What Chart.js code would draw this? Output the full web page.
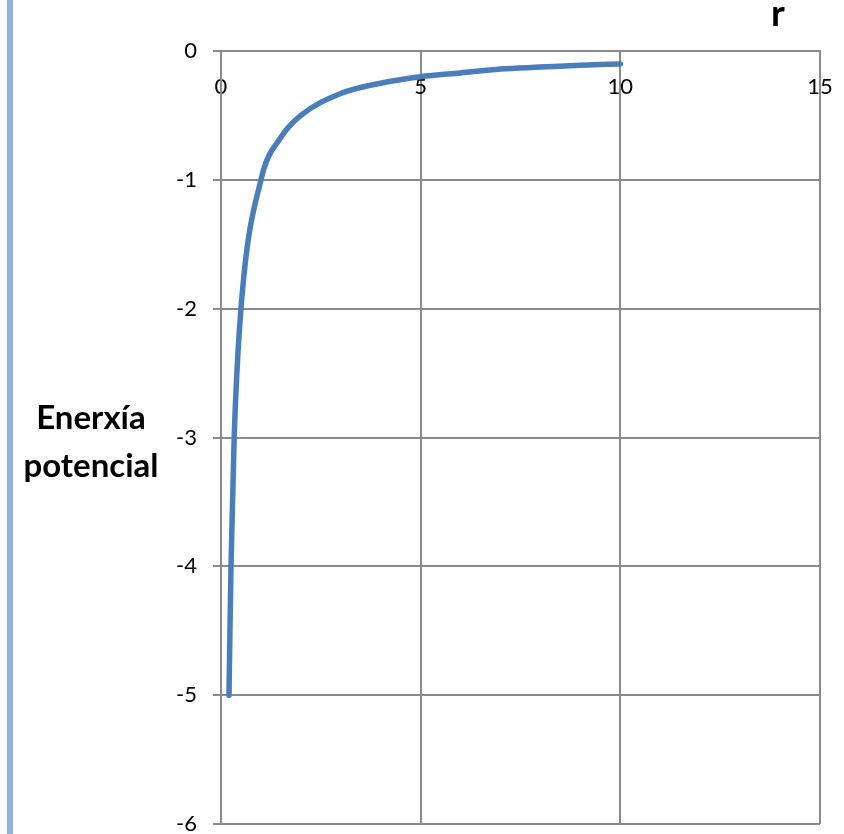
<!DOCTYPE html>
<html>
<head>
<meta charset="utf-8">
<script src="https://cdn.jsdelivr.net/npm/chart.js@4/dist/chart.umd.min.js"></script>
<style>
  html, body { margin: 0; padding: 0; background: #fff; }
  #wrap { position: relative; width: 844px; height: 834px; }
  #bar { position: absolute; left: 7px; top: 0; width: 6px; height: 834px; background: #8eb4e3; }
  canvas { position: absolute; left: 0; top: 0; }
  .ttl { position: absolute; font-family: Lato, "Open Sans", sans-serif; font-weight: bold; color: #000; }
  #ytitle { left: 16px; top: 392px; width: 150px; text-align: center; font-size: 33px; line-height: 48px; }
  #xtitle { left: 771px; top: -11px; font-size: 37px; }
</style>
</head>
<body>
<div id="wrap">
  <div id="bar"></div>
  <canvas id="c" width="844" height="834"></canvas>
  <div class="ttl" id="ytitle">Enerxía<br>potencial</div>
  <div class="ttl" id="xtitle">r</div>
</div>
<script>
// distance r and potential energy at each sampled point
const rValues = [0.2, 0.25, 0.33, 0.5, 1, 1.5, 2, 3, 4, 5, 6, 7, 8, 9, 10];
const energyValues = [-5, -4, -3, -2, -1, -0.67, -0.5, -0.33, -0.25, -0.2, -0.17, -0.14, -0.125, -0.11, -0.1];
const xTicks = [0, 5, 10, 15];
const yTicks = [0, -1, -2, -3, -4, -5, -6];

const gridGray = '#8a8a8a';
const tickFont = { family: 'Lato, "Open Sans", sans-serif', size: 22 };

new Chart(document.getElementById('c'), {
  type: 'scatter',
  data: {
    datasets: [{
      data: rValues.map((r, i) => ({ x: r, y: energyValues[i] })),
      showLine: true,
      borderColor: '#4a7ebb',
      borderWidth: 5.5,
      pointRadius: 0,
      cubicInterpolationMode: 'monotone',
      borderCapStyle: 'round',
      borderJoinStyle: 'round'
    }]
  },
  options: {
    responsive: false,
    animation: false,
    plugins: { legend: { display: false }, tooltip: { enabled: false } },
    layout: { padding: { left: 0, top: 51, right: 24, bottom: 10 } },
    scales: {
      x: {
        type: 'linear',
        position: { y: 0 },
        min: 0, max: 15,
        afterBuildTicks: (s) => { s.ticks = xTicks.map(v => ({ value: v })); },
        afterFit: (s) => { s.height = 0; s.paddingLeft = 0; s.paddingRight = 0; s.paddingTop = 0; s.paddingBottom = 0; },
        grid: { color: gridGray, lineWidth: 2, drawTicks: false },
        border: { color: gridGray, width: 2 },
        ticks: { color: '#000', font: tickFont, padding: 23, maxRotation: 0 }
      },
      y: {
        type: 'linear',
        position: 'left',
        min: -6, max: 0,
        afterBuildTicks: (s) => { s.ticks = yTicks.map(v => ({ value: v })); },
        afterFit: (s) => { s.width = 221; s.paddingTop = 0; s.paddingBottom = 0; s.paddingLeft = 0; s.paddingRight = 0; },
        grid: { color: gridGray, lineWidth: 2, tickLength: 8, tickColor: gridGray },
        border: { color: gridGray, width: 2 },
        ticks: { color: '#000', font: tickFont, padding: 16 }
      }
    }
  }
});
</script>
</body>
</html>
